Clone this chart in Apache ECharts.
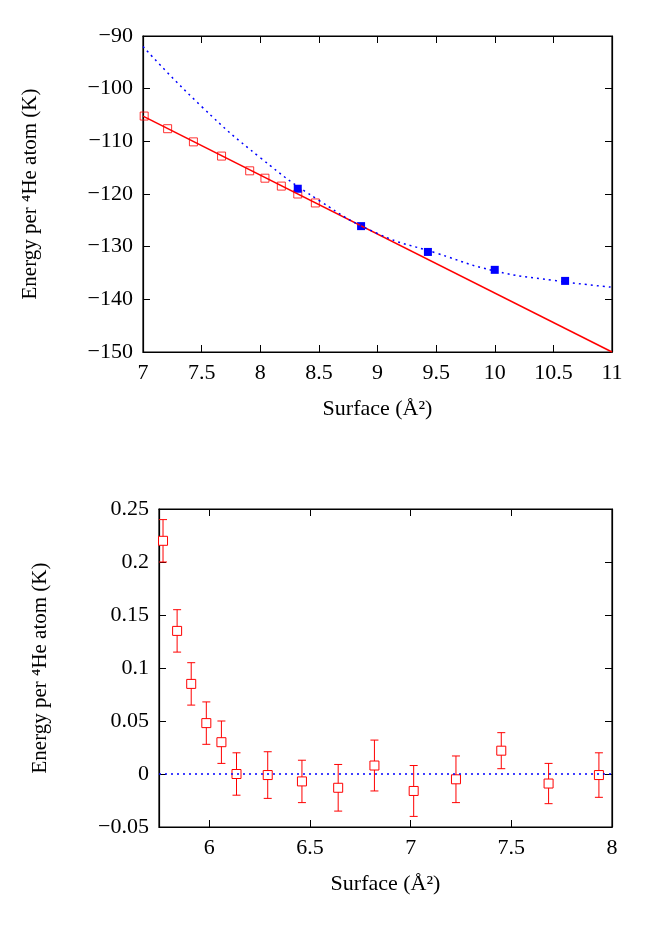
<!DOCTYPE html>
<html lang="en">
<head>
<meta charset="UTF-8">
<title>Energy per atom</title>
<script src="https://cdn.jsdelivr.net/npm/echarts@6/dist/echarts.min.js"></script>
<style>html,body{margin:0;background:#fff}</style>
</head>
<body>
<div id="main" style="width:664px;height:949px;"></div>
<script>
// top panel data
var topRedX = [7.01, 7.21, 7.43, 7.67, 7.91, 8.04, 8.18, 8.32, 8.47];
var topRedY = [-105.2, -107.6, -110.1, -112.8, -115.6, -117.0, -118.5, -120.0, -121.7];
var topBlueX = [8.32, 8.86, 9.43, 10.0, 10.6];
var topBlueY = [-119.0, -126.1, -131.0, -134.4, -136.5];
var fitLineX = [7, 11];
var fitLineY = [-105.2, -150];
var fitCurveX = [7, 7.5, 8, 8.5, 9, 9.5, 10, 10.5, 11];
var fitCurveY = [-92, -103.4, -113.1, -121.2, -127.5, -131.2, -134.6, -136.4, -137.7];
// bottom panel data
var botX = [5.77, 5.84, 5.91, 5.985, 6.06, 6.135, 6.29, 6.46, 6.64, 6.82, 7.015, 7.225, 7.45, 7.685, 7.935];
var botY = [0.220, 0.135, 0.085, 0.048, 0.030, 0.000, -0.001, -0.007, -0.013, 0.008, -0.016, -0.005, 0.022, -0.009, -0.001];
var botErr = [0.020, 0.020, 0.020, 0.020, 0.020, 0.020, 0.022, 0.020, 0.022, 0.024, 0.024, 0.022, 0.017, 0.019, 0.021];
var botTicks = [6, 6.5, 7, 7.5, 8];

var font = 'Liberation Serif';
var zip = function (a, b) { return a.map(function (v, i) { return [v, b[i]]; }); };
var red = '#ff0000', blue = '#0000ff';

function xAx(grid, min, max, interval, showLabel, pos, name, ticks) {
    var ax = {
        gridIndex: grid, type: 'value', min: min, max: max, interval: interval, position: pos,
        axisLine: {onZero: false, lineStyle: {color: '#000', width: 1.2}},
        axisTick: {inside: true, length: 7, lineStyle: {color: '#000'}},
        axisLabel: {show: showLabel, color: '#000', fontFamily: font, fontSize: 22, margin: 10},
        splitLine: {show: false},
        name: name, nameLocation: 'middle', nameGap: 46,
        nameTextStyle: {color: '#000', fontFamily: font, fontSize: 22}
    };
    if (ticks) {
        ax.axisTick.customValues = ticks;
        ax.axisLabel.customValues = ticks;
    }
    return ax;
}
function yAx(grid, min, max, interval, showLabel, pos, name, fmt) {
    return {
        gridIndex: grid, type: 'value', min: min, max: max, interval: interval, position: pos,
        axisLine: {onZero: false, lineStyle: {color: '#000', width: 1.2}},
        axisTick: {inside: true, length: 7, lineStyle: {color: '#000'}},
        axisLabel: {show: showLabel, color: '#000', fontFamily: font, fontSize: 22, margin: 10,
            formatter: fmt},
        splitLine: {show: false},
        name: name, nameLocation: 'middle', nameGap: grid === 0 ? 102 : 108, nameRotate: 90,
        nameTextStyle: {color: '#000', fontFamily: font, fontSize: 21}
    };
}
var minus = function (v) { return String(v).replace('-', '\u2212'); };
var sq = {color: 'transparent', borderColor: red, borderWidth: 1};

var option = {
    animation: false,
    grid: [
        {left: 143, top: 36, width: 469, height: 316, show: true, borderColor: '#000', borderWidth: 1.2},
        {left: 159, top: 509, width: 453, height: 318, show: true, borderColor: '#000', borderWidth: 1.2}
    ],
    xAxis: [
        xAx(0, 7, 11, 0.5, true, 'bottom', 'Surface (\u00c5\u00b2)'),
        xAx(0, 7, 11, 0.5, false, 'top', ''),
        xAx(1, 5.75, 8, null, true, 'bottom', 'Surface (\u00c5\u00b2)', botTicks),
        xAx(1, 5.75, 8, null, false, 'top', '', botTicks)
    ],
    yAxis: [
        yAx(0, -150, -90, 10, true, 'left', 'Energy per \u2074He atom (K)', minus),
        yAx(0, -150, -90, 10, false, 'right', '', minus),
        yAx(1, -0.05, 0.25, 0.05, true, 'left', 'Energy per \u2074He atom (K)', minus),
        yAx(1, -0.05, 0.25, 0.05, false, 'right', '', minus)
    ],
    series: [
        {type: 'line', xAxisIndex: 0, yAxisIndex: 0, data: zip(fitLineX, fitLineY), symbol: 'none',
            lineStyle: {color: red, width: 1.5}},
        {type: 'line', xAxisIndex: 0, yAxisIndex: 0, data: zip(fitCurveX, fitCurveY), symbol: 'none', smooth: true,
            lineStyle: {color: blue, width: 1.5, type: [2, 4]}},
        {type: 'scatter', xAxisIndex: 0, yAxisIndex: 0, data: zip(topRedX, topRedY), symbol: 'rect',
            symbolSize: 8, itemStyle: sq},
        {type: 'scatter', xAxisIndex: 0, yAxisIndex: 0, data: zip(topBlueX, topBlueY), symbol: 'rect',
            symbolSize: 8, itemStyle: {color: blue, opacity: 1}},
        {type: 'line', xAxisIndex: 2, yAxisIndex: 2, data: [[5.75, 0], [8, 0]], symbol: 'none',
            lineStyle: {color: blue, width: 1.5, type: [2, 4]}},
        {type: 'custom', xAxisIndex: 2, yAxisIndex: 2,
            data: botX.map(function (x, i) { return [x, botY[i] - botErr[i], botY[i] + botErr[i]]; }),
            renderItem: function (params, api) {
                var lo = api.coord([api.value(0), api.value(1)]);
                var hi = api.coord([api.value(0), api.value(2)]);
                var st = {stroke: red, lineWidth: 1};
                return {type: 'group', children: [
                    {type: 'line', shape: {x1: lo[0], y1: lo[1], x2: hi[0], y2: hi[1]}, style: st},
                    {type: 'line', shape: {x1: lo[0] - 4, y1: lo[1], x2: lo[0] + 4, y2: lo[1]}, style: st},
                    {type: 'line', shape: {x1: hi[0] - 4, y1: hi[1], x2: hi[0] + 4, y2: hi[1]}, style: st}
                ]};
            }},
        {type: 'scatter', xAxisIndex: 2, yAxisIndex: 2, data: zip(botX, botY), symbol: 'rect',
            symbolSize: 9, itemStyle: {color: '#fff', borderColor: red, borderWidth: 1, opacity: 1}}
    ]
};
var myChart = echarts.init(document.getElementById('main'));
myChart.setOption(option);
</script>
</body>
</html>
